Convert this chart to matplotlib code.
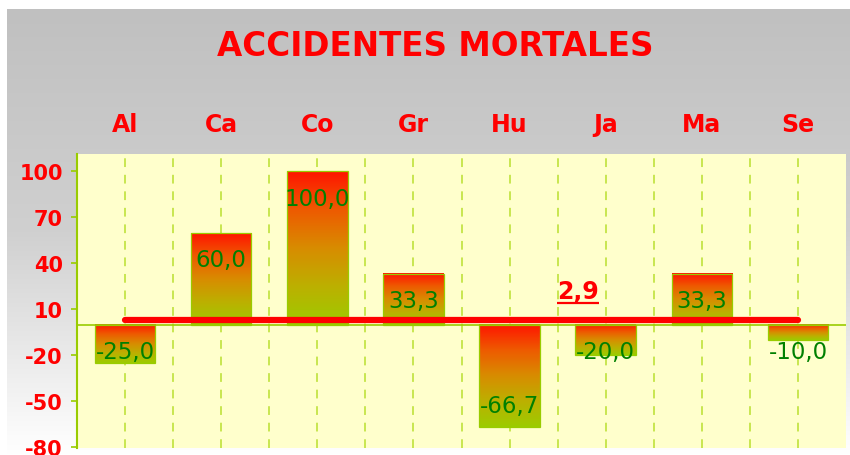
import numpy as np
import matplotlib
matplotlib.use('Agg')
import matplotlib.pyplot as plt
from matplotlib.colors import LinearSegmentedColormap
import matplotlib.transforms as mtransforms

categories = ['Al', 'Ca', 'Co', 'Gr', 'Hu', 'Ja', 'Ma', 'Se']
values = [-25.0, 60.0, 100.0, 33.3, -66.7, -20.0, 33.3, -10.0]
reference_value = 2.9
y_ticks = [-80, -50, -20, 10, 40, 70, 100]
title = 'ACCIDENTES MORTALES'


def fmt(v):
    return f'{v:.1f}'.replace('.', ',')


W, H = 850, 456
fig = plt.figure(figsize=(W / 100, H / 100), dpi=100, facecolor='white')

# gray gradient panel
bg = fig.add_axes([7 / W, 0, 1 - 7 / W, 1 - 10 / H], zorder=0)
grad = np.linspace(0, 1, 256).reshape(-1, 1)
bg_cmap = LinearSegmentedColormap.from_list('bg', ['#C0C0C0', '#D0D0D0', '#FFFFFF'])
bg.imshow(grad, aspect='auto', cmap=bg_cmap, extent=[0, 1, 0, 1], origin='upper')
bg.axis('off')

# main axes
top_px, bot_px = 155.0, 449.3
ax = fig.add_axes([77 / W, (H - bot_px) / H, 769 / W, (bot_px - top_px) / H], zorder=1)
ax.set_facecolor('#FFFFCC')

bar_cmap = LinearSegmentedColormap.from_list(
    'bar', ['#FF1400', '#EE5A00', '#D88C00', '#BCB000', '#9CCC00'])
x = np.arange(len(categories))
bw = 0.63
for xi, v in zip(x, values):
    lo, hi = min(0, v), max(0, v)
    ax.imshow(grad, extent=[xi - bw / 2, xi + bw / 2, lo, hi], origin='upper',
              aspect='auto', cmap=bar_cmap, zorder=2, interpolation='bilinear')
ax.bar(x, values, width=bw, facecolor='none', edgecolor='#99CC00', lw=0.9, zorder=3)

ax.axhline(0, color='#99CC00', lw=1.2, zorder=2.5)

# data labels
for xi, v in zip(x, values):
    ly = v - 17.5 if v > 0 else min(-17.6, v + 14)
    ax.text(xi, ly, fmt(v), color='#008000', fontsize=16.5, ha='center', va='center', zorder=6)

# reference line
ax.plot([x[0], x[-1]], [reference_value, reference_value], color='#FF0000', lw=4.5,
        solid_capstyle='round', zorder=5)
ref_txt = ax.text(4.71, reference_value + 19, fmt(reference_value), color='#FF0000',
                  fontsize=17, fontweight='bold', ha='center', va='center', zorder=6)

ax.set_xlim(-0.5, 7.5)
ax.set_ylim(-80.65, 111.3)

# vertical dashed grid
ax.set_xticks(np.arange(0, 7.01, 0.5))
ax.set_xticklabels([])
ax.tick_params(axis='x', length=0)
ax.grid(axis='x', color='#C8E650', ls=(0, (4.5, 4)), lw=1.4)
ax.set_axisbelow(True)

ax.set_yticks(y_ticks)
ax.set_yticklabels([str(t) for t in y_ticks])
ax.tick_params(axis='y', colors='#99CC00', labelcolor='#FF0000', labelsize=15,
               length=4.3, width=1.2, pad=6)
for lbl in ax.get_yticklabels():
    lbl.set_fontweight('bold')

for s in ['top', 'right', 'bottom']:
    ax.spines[s].set_visible(False)
ax.spines['left'].set_color('#99CC00')
ax.spines['left'].set_linewidth(1.5)

# category labels on top
trans = mtransforms.blended_transform_factory(ax.transData, ax.transAxes)
for xi, c in zip(x, categories):
    ax.text(xi, 1.102, c, transform=trans, ha='center', va='center', color='#FF0000',
            fontsize=17, fontweight='bold', clip_on=False)

fig.text(435 / W, 1 - 47 / H, title, ha='center', va='center', color='#FF0000',
         fontsize=23.5, fontweight='bold')

# underline the reference label
fig.canvas.draw()
bb = ref_txt.get_window_extent()
cy = (bb.y0 + bb.y1) / 2
inv = ax.transData.inverted()
(x0, y0) = inv.transform((bb.x0, cy - 11.6))
(x1, _) = inv.transform((bb.x1, cy - 11.6))
ax.plot([x0, x1], [y0, y0], color='#FF0000', lw=1.6, zorder=6, solid_capstyle='butt')

fig.savefig('out.png', dpi=100, facecolor='white')
